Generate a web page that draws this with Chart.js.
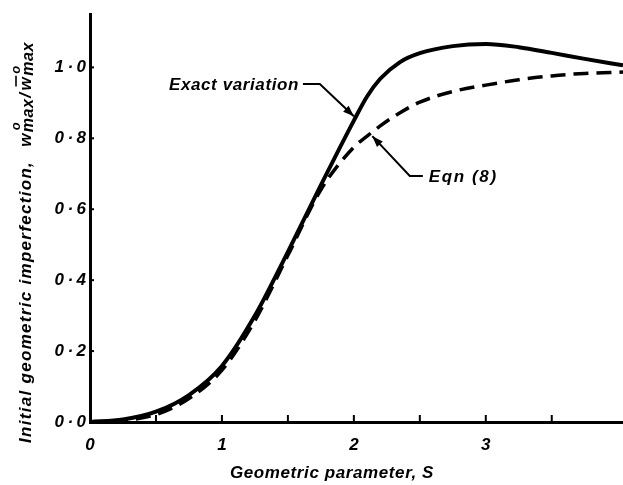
<!DOCTYPE html>
<html>
<head>
<meta charset="utf-8">
<script src="https://cdn.jsdelivr.net/npm/chart.js@4.4.0/dist/chart.umd.min.js"></script>
<style>
  body { margin: 0; background: #fff; }
  canvas { display: block; background: #fff; }
</style>
</head>
<body>
<canvas id="chart" width="623" height="485"></canvas>
<script>
// geometric parameter S
const sValues = [0, 0.25, 0.5, 0.75, 1.0, 1.25, 1.5, 1.75, 2.0, 2.1, 2.2, 2.35, 2.5, 2.75, 3.0, 3.25, 3.5, 3.75, 4.04];
const exactValues = [0, 0.007, 0.029, 0.076, 0.158, 0.3, 0.48, 0.668, 0.85, 0.918, 0.968, 1.015, 1.04, 1.06, 1.066, 1.057, 1.041, 1.024, 1.006];
const eqn8Values = [0, 0.004, 0.021, 0.066, 0.146, 0.286, 0.47, 0.655, 0.775, 0.806, 0.835, 0.872, 0.902, 0.932, 0.95, 0.965, 0.976, 0.983, 0.987];

const xTickValues = [0, 0.5, 1, 1.5, 2, 2.5, 3, 3.5];
const yTickValues = [0, 0.2, 0.4, 0.6, 0.8, 1.0];

// annotation leaders in data units: text end, elbow, arrow tip
const exactLeader = [[1.614, 0.953], [1.742, 0.953], [2.0, 0.862]];
const eqnLeader = [[2.523, 0.694], [2.424, 0.694], [2.14, 0.806]];

const FONT = "'Liberation Sans', 'DejaVu Sans', sans-serif";

function toPoints(ys) {
  return sValues.map((s, i) => ({ x: s, y: ys[i] }));
}

function arrowHead(ctx, from, to) {
  const ang = Math.atan2(to[1] - from[1], to[0] - from[0]);
  const len = 11, half = 4;
  ctx.beginPath();
  ctx.moveTo(to[0], to[1]);
  ctx.lineTo(to[0] - len * Math.cos(ang) + half * Math.sin(ang), to[1] - len * Math.sin(ang) - half * Math.cos(ang));
  ctx.lineTo(to[0] - len * Math.cos(ang) - half * Math.sin(ang), to[1] - len * Math.sin(ang) + half * Math.cos(ang));
  ctx.closePath();
  ctx.fill();
}

function drawLeader(ctx, chart, pts) {
  const xs = chart.scales.x, ys = chart.scales.y;
  const p = pts.map(([a, b]) => [xs.getPixelForValue(a), ys.getPixelForValue(b)]);
  ctx.beginPath();
  ctx.moveTo(p[0][0], p[0][1]);
  ctx.lineTo(p[1][0], p[1][1]);
  ctx.lineTo(p[2][0], p[2][1]);
  ctx.lineWidth = 2;
  ctx.stroke();
  arrowHead(ctx, p[1], p[2]);
}

const decorPlugin = {
  id: "decor",
  afterDraw(chart) {
    const ctx = chart.ctx;
    const xs = chart.scales.x, ys = chart.scales.y;
    const area = chart.chartArea;
    ctx.save();
    ctx.strokeStyle = "#000";
    ctx.fillStyle = "#000";

    // inward tick marks
    ctx.lineWidth = 2;
    xTickValues.slice(1).forEach((v) => {
      const px = xs.getPixelForValue(v);
      ctx.beginPath();
      ctx.moveTo(px, area.bottom);
      ctx.lineTo(px, area.bottom - 7);
      ctx.stroke();
    });
    yTickValues.slice(1).forEach((v) => {
      const py = ys.getPixelForValue(v);
      ctx.beginPath();
      ctx.moveTo(area.left, py);
      ctx.lineTo(area.left + 4, py);
      ctx.stroke();
    });

    // annotations
    ctx.font = "italic bold 17px " + FONT;
    ctx.letterSpacing = "0.6px";
    ctx.textBaseline = "alphabetic";
    ctx.textAlign = "right";
    const e0 = [xs.getPixelForValue(exactLeader[0][0]), ys.getPixelForValue(exactLeader[0][1])];
    ctx.fillText("Exact variation", e0[0] - 4, e0[1] + 6);
    drawLeader(ctx, chart, exactLeader);

    ctx.textAlign = "left";
    ctx.letterSpacing = "1.6px";
    const q0 = [xs.getPixelForValue(eqnLeader[0][0]), ys.getPixelForValue(eqnLeader[0][1])];
    ctx.fillText("Eqn (8)", q0[0] + 6, q0[1] + 6);
    drawLeader(ctx, chart, eqnLeader);

    // x axis title
    ctx.letterSpacing = "0.6px";
    ctx.textAlign = "center";
    ctx.fillText("Geometric parameter, S", 332, 478);

    // y axis title, rotated
    ctx.translate(31, 443);
    ctx.rotate(-Math.PI / 2);
    ctx.textAlign = "left";
    ctx.letterSpacing = "1.3px";
    let cx = 0;
    const main = "Initial geometric imperfection,";
    ctx.fillText(main, cx, 0);
    cx += ctx.measureText(main).width + 14;
    ctx.letterSpacing = "0.5px";
    const drawW = (bar) => {
      ctx.font = "italic bold 17px " + FONT;
      const ww = ctx.measureText("w").width;
      ctx.fillText("w", cx, 0);
      if (bar) {
        ctx.lineWidth = 1.6;
        ctx.beginPath();
        ctx.moveTo(cx + 4, -15);
        ctx.lineTo(cx + ww + 1, -15);
        ctx.stroke();
      }
      cx += ww + 1;
      ctx.font = "italic bold 13px " + FONT;
      ctx.fillText("o", cx + 2, -11);
      ctx.font = "italic bold 16px " + FONT;
      ctx.fillText("max", cx, 2);
      cx += ctx.measureText("max").width;
    };
    drawW(false);
    ctx.font = "italic bold 17px " + FONT;
    ctx.fillText("/", cx + 1, 0);
    cx += ctx.measureText("/").width + 3;
    drawW(true);
    ctx.restore();
  }
};

const tickFont = { family: FONT, size: 17, style: "italic", weight: "bold" };

new Chart(document.getElementById("chart"), {
  type: "line",
  data: {
    datasets: [
      {
        label: "Exact variation",
        data: toPoints(exactValues),
        borderColor: "#000",
        borderWidth: 4,
        pointRadius: 0,
        cubicInterpolationMode: "monotone",
      },
      {
        label: "Eqn (8)",
        data: toPoints(eqn8Values),
        borderColor: "#000",
        borderWidth: 3.5,
        borderDash: [15, 8],
        pointRadius: 0,
        cubicInterpolationMode: "monotone",
      },
    ],
  },
  options: {
    responsive: false,
    animation: false,
    layout: { padding: { top: 8, right: 0, left: 0, bottom: 0 } },
    plugins: { legend: { display: false }, tooltip: { enabled: false } },
    scales: {
      x: {
        type: "linear",
        min: 0,
        max: 4.04,
        afterBuildTicks: (scale) => {
          scale.ticks = xTickValues.map((v) => ({ value: v }));
        },
        afterFit: (scale) => {
          scale.height = 63;
        },
        grid: { display: false, tickLength: 0 },
        border: { display: true, color: "#000", width: 3 },
        ticks: {
          color: "#000",
          padding: 13,
          maxRotation: 0,
          font: tickFont,
          callback: (v) => (Number.isInteger(v) ? String(v) : ""),
        },
      },
      y: {
        min: 0,
        max: 1.15,
        afterBuildTicks: (scale) => {
          scale.ticks = yTickValues.map((v) => ({ value: v }));
        },
        afterFit: (scale) => {
          scale.width = 90;
        },
        grid: { display: false, tickLength: 0 },
        border: { display: true, color: "#000", width: 3 },
        ticks: {
          color: "#000",
          padding: 4,
          font: tickFont,
          callback: (v) => v.toFixed(1).replace(".", "\u2009·\u2009"),
        },
      },
    },
  },
  plugins: [decorPlugin],
});
</script>
</body>
</html>
